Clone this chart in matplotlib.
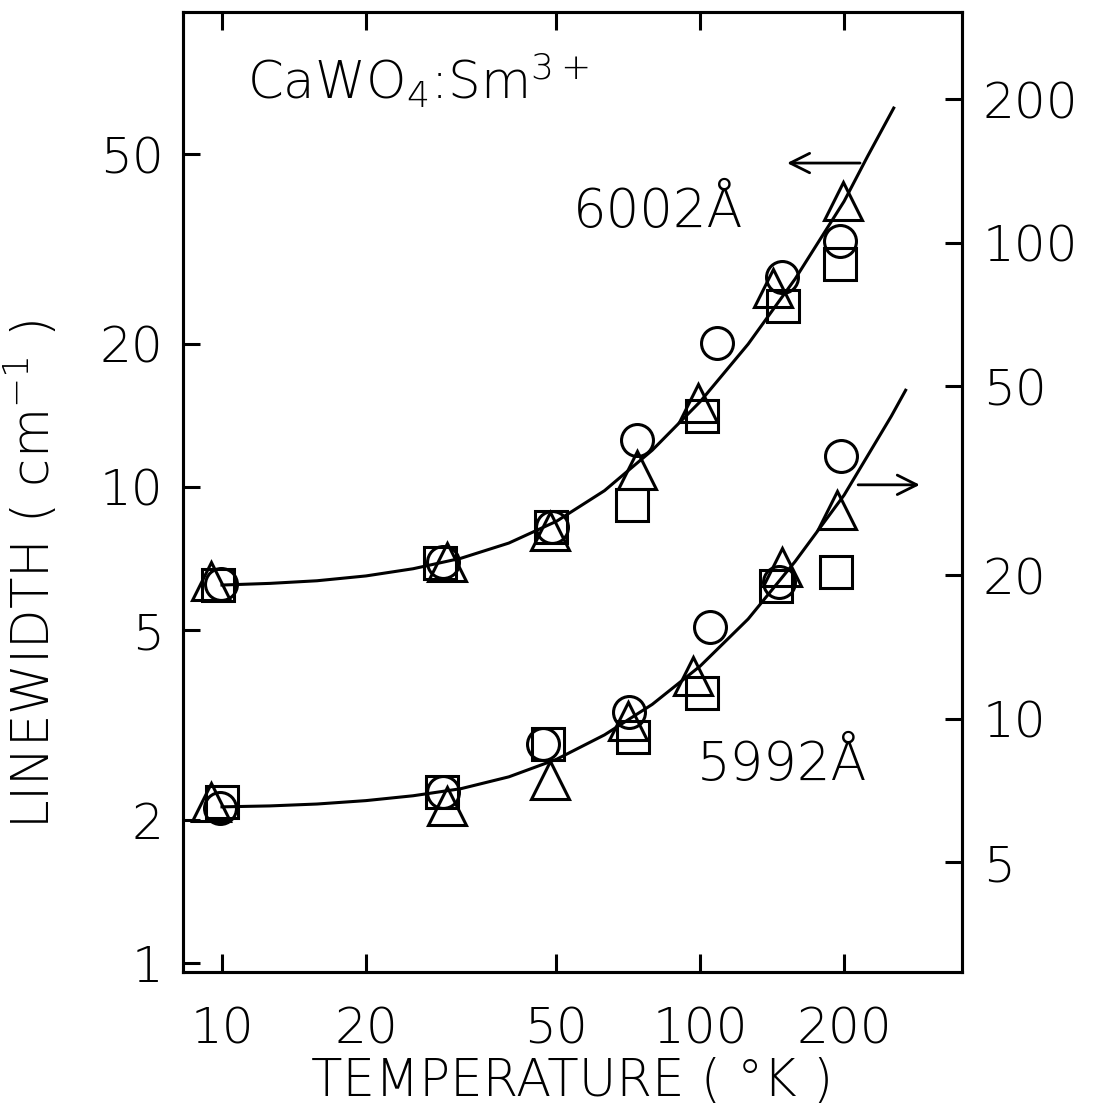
import matplotlib
matplotlib.use("Agg")
import matplotlib.pyplot as plt
from matplotlib.ticker import FixedLocator, FixedFormatter, NullLocator

plt.rcParams["font.family"] = ["DejaVu Sans"]
plt.rcParams["font.weight"] = "light"
plt.rcParams["axes.labelweight"] = "light"
plt.rcParams["mathtext.default"] = "regular"

# 6002 A line (left axis, cm^-1)
t_6002_circle = [9.95, 29.0, 49.0, 73.8, 108.5, 148.6, 196]
w_6002_circle = [6.25, 6.95, 8.24, 12.56, 20.1, 27.6, 32.9]
t_6002_triangle = [9.5, 29.5, 48.5, 73.8, 99, 142, 199]
w_6002_triangle = [6.35, 6.95, 8.08, 10.86, 15.0, 26.2, 39.9]
t_6002_square = [9.8, 28.6, 48.8, 72, 101, 149, 196]
w_6002_square = [6.23, 6.92, 8.24, 9.17, 14.1, 24.0, 29.4]
# fitted curve
t_6002_fit = [10, 12.6, 15.8, 20, 25.1, 31.6, 39.8, 50.1, 63.1, 79.4, 100,
              126, 158, 200, 224, 254]
w_6002_fit = [6.22, 6.27, 6.35, 6.50, 6.73, 7.08, 7.62, 8.47, 9.82, 11.94, 15.1,
              19.95, 27.35, 39.8, 49.5, 62.5]

# 5992 A line (right axis)
t_5992_circle = [9.9, 29.0, 46.9, 71.0, 105, 146, 197]
w_5992_circle = [6.5, 7.0, 8.86, 10.35, 15.6, 19.4, 35.7]
t_5992_triangle = [9.5, 29.5, 48.6, 70.6, 96.6, 148, 193]
w_5992_triangle = [6.67, 6.56, 7.45, 9.9, 12.3, 20.8, 27.4]
t_5992_square = [10.0, 28.8, 48.1, 72.4, 101, 144, 192]
w_5992_square = [6.7, 7.0, 8.86, 9.17, 11.3, 19.0, 20.3]
t_5992_fit = [10, 12.6, 15.8, 20, 25.1, 31.6, 39.8, 50.1, 63.1, 79.4, 100,
              126, 158, 200, 251, 269]
w_5992_fit = [6.53, 6.56, 6.62, 6.73, 6.89, 7.13, 7.55, 8.22, 9.25, 10.72, 12.9,
              16.2, 21.4, 29.5, 43.2, 49.0]

x_ticks = [10, 20, 50, 100, 200]
left_ticks = [1, 2, 5, 10, 20, 50]
right_ticks = [5, 10, 20, 50, 100, 200]

fig = plt.figure(figsize=(10.96, 11.05), dpi=100)
ax = fig.add_axes([0.167, 0.1204, 0.7108, 0.8688])
ax2 = ax.twinx()

ax.set_xscale("log")
ax.set_yscale("log")
ax2.set_yscale("log")
ax.set_xlim(8.29, 353)
ax.set_ylim(0.957, 99.5)
ax2.set_ylim(0.957 * 3.07, 99.5 * 3.07)

marker_style = dict(linestyle="none", color="black", markerfacecolor="none",
                    markeredgewidth=2.2)

# upper curve and points
ax.plot(t_6002_fit, w_6002_fit, color="black", lw=2.2)
ax.plot(t_6002_circle, w_6002_circle, marker="o", markersize=23, **marker_style)
ax.plot(t_6002_square, w_6002_square, marker="s", markersize=23, **marker_style)
ax.plot(t_6002_triangle, w_6002_triangle, marker="^", markersize=27, **marker_style)

# lower curve and points
ax2.plot(t_5992_fit, w_5992_fit, color="black", lw=2.2)
ax2.plot(t_5992_circle, w_5992_circle, marker="o", markersize=23, **marker_style)
ax2.plot(t_5992_square, w_5992_square, marker="s", markersize=23, **marker_style)
ax2.plot(t_5992_triangle, w_5992_triangle, marker="^", markersize=27, **marker_style)

# ticks
for a in (ax, ax2):
    a.xaxis.set_major_locator(FixedLocator(x_ticks))
    a.xaxis.set_minor_locator(NullLocator())
    a.yaxis.set_minor_locator(NullLocator())
    for s in a.spines.values():
        s.set_linewidth(2.2)

ax.xaxis.set_major_formatter(FixedFormatter([str(t) for t in x_ticks]))
ax.yaxis.set_major_locator(FixedLocator(left_ticks))
ax.yaxis.set_major_formatter(FixedFormatter([str(t) for t in left_ticks]))
ax2.yaxis.set_major_locator(FixedLocator(right_ticks))
ax2.yaxis.set_major_formatter(FixedFormatter([str(t) for t in right_ticks]))

ax.tick_params(axis="x", which="major", direction="in", length=13, width=2.2,
               top=True, labelsize=36, pad=24)
ax.tick_params(axis="y", which="major", direction="in", length=12, width=2.2,
               right=False, labelsize=36, pad=14)
ax2.tick_params(axis="y", which="major", direction="in", length=12, width=2.2,
                labelsize=36, pad=15)

ax.set_xlabel("TEMPERATURE ( °K )", fontsize=37)
ax.set_ylabel("LINEWIDTH ( cm$^{-1}$ )", fontsize=37)
ax.xaxis.label.set_va("center")
ax.yaxis.label.set_va("center")
ax.xaxis.set_label_coords(0.5, -0.1146)
ax.yaxis.set_label_coords(-0.194, 0.414)

# labels and arrows
ax.text(11.3, 65, "CaWO$_4$:Sm$^{3+}$", fontsize=37, ha="left", va="baseline")
ax.text(54.2, 35.2, "6002Å", fontsize=38, ha="left", va="baseline")
ax.text(98.6, 2.42, "5992Å", fontsize=38, ha="left", va="baseline")
ax.annotate("", xy=(152, 47.9), xytext=(216, 47.9),
            arrowprops=dict(arrowstyle="->", lw=2, mutation_scale=35, color="black",
                            shrinkA=0, shrinkB=0))
ax.annotate("", xy=(288, 10.1), xytext=(214, 10.1),
            arrowprops=dict(arrowstyle="->", lw=2, mutation_scale=35, color="black",
                            shrinkA=0, shrinkB=0))

fig.savefig("out.png", dpi=100)
